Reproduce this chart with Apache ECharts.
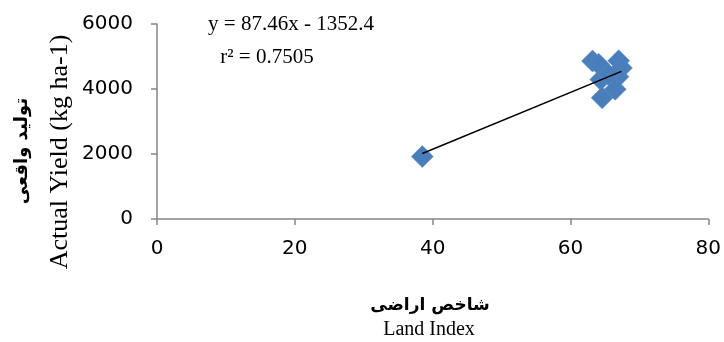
<!DOCTYPE html>
<html>
<head>
<meta charset="utf-8">
<script src="https://cdn.jsdelivr.net/npm/echarts@6/dist/echarts.min.js"></script>
<style>html,body{margin:0;padding:0;background:#fff}#c{width:724px;height:342px}</style>
</head>
<body>
<div id="c"></div>
<script>
// Data
const landIndex = [38.5, 63.2, 64.1, 67.0, 67.4, 64.4, 66.9, 64.6, 66.5, 65.5];
const actualYield = [1920, 4860, 4760, 4870, 4650, 4290, 4380, 3730, 3990, 4450];
const trendSlope = 87.46;
const trendIntercept = -1352.4;
const equationText = 'y = 87.46x - 1352.4';
const r2Text = 'r² = 0.7505';
const xTicks = [0, 20, 40, 60, 80];
const yTicks = [0, 2000, 4000, 6000];
const xTitleFa = 'شاخص اراضی';
const xTitleEn = 'Land Index';
const yTitleFa = 'تولید واقعی';
const yTitleEn = 'Actual Yield (kg ha-1)';

const points = landIndex.map((x, i) => [x, actualYield[i]]);
const xMinData = Math.min(...landIndex), xMaxData = Math.max(...landIndex);
const trend = [xMinData, xMaxData].map(x => [x, trendSlope * x + trendIntercept]);

const chart = echarts.init(document.getElementById('c'), null, {renderer: 'canvas'});
const axisGray = '#868686';
chart.setOption({
  animation: false,
  grid: {left: 157, right: 13, top: 24, bottom: 123, containLabel: false},
  xAxis: {
    type: 'value', min: xTicks[0], max: xTicks[xTicks.length - 1], interval: xTicks[1] - xTicks[0],
    axisLine: {show: true, onZero: false, lineStyle: {color: axisGray, width: 1.5}},
    axisTick: {show: true, inside: false, length: 6, lineStyle: {color: axisGray, width: 1.5}},
    splitLine: {show: false},
    axisLabel: {margin: 20, fontSize: 20, color: '#000', fontFamily: 'DejaVu Sans', formatter: v => String(v)}
  },
  yAxis: {
    type: 'value', min: yTicks[0], max: yTicks[yTicks.length - 1], interval: yTicks[1] - yTicks[0],
    axisLine: {show: true, onZero: false, lineStyle: {color: axisGray, width: 1.5}},
    axisTick: {show: true, inside: false, length: 6, lineStyle: {color: axisGray, width: 1.5}},
    splitLine: {show: false},
    axisLabel: {margin: 24, fontSize: 20, color: '#000', fontFamily: 'DejaVu Sans', formatter: v => String(v)}
  },
  series: [
    {
      type: 'scatter', data: points, symbol: 'diamond', symbolSize: [22, 22],
      itemStyle: {color: '#4A7EBB', opacity: 1, borderColor: '#5B8CC8', borderWidth: 0.5}, z: 2
    },
    {
      type: 'line', data: trend, symbol: 'none', z: 3,
      lineStyle: {color: '#000', width: 1.5}
    }
  ],
  graphic: [
    {type: 'text', x: 291, y: 24, style: {text: equationText, font: '21px "Liberation Serif"', fill: '#000', align: 'center', verticalAlign: 'middle'}},
    {type: 'text', x: 267, y: 57, style: {text: r2Text, font: '21px "Liberation Serif"', fill: '#000', align: 'center', verticalAlign: 'middle'}},
    {type: 'text', x: 430, y: 306, style: {text: xTitleFa, font: 'bold 17px "DejaVu Sans"', fill: '#000', align: 'center', verticalAlign: 'middle'}},
    {type: 'text', x: 429, y: 330, style: {text: xTitleEn, font: '20px "Liberation Serif"', fill: '#000', align: 'center', verticalAlign: 'middle'}},
    {type: 'text', x: 22, y: 151, rotation: Math.PI / 2, style: {text: yTitleFa, font: 'bold 18px "DejaVu Sans"', fill: '#000', align: 'center', verticalAlign: 'middle'}},
    {type: 'text', x: 60, y: 152, rotation: Math.PI / 2, style: {text: yTitleEn, font: '26px "Liberation Serif"', fill: '#000', align: 'center', verticalAlign: 'middle'}}
  ]
});
</script>
</body>
</html>
